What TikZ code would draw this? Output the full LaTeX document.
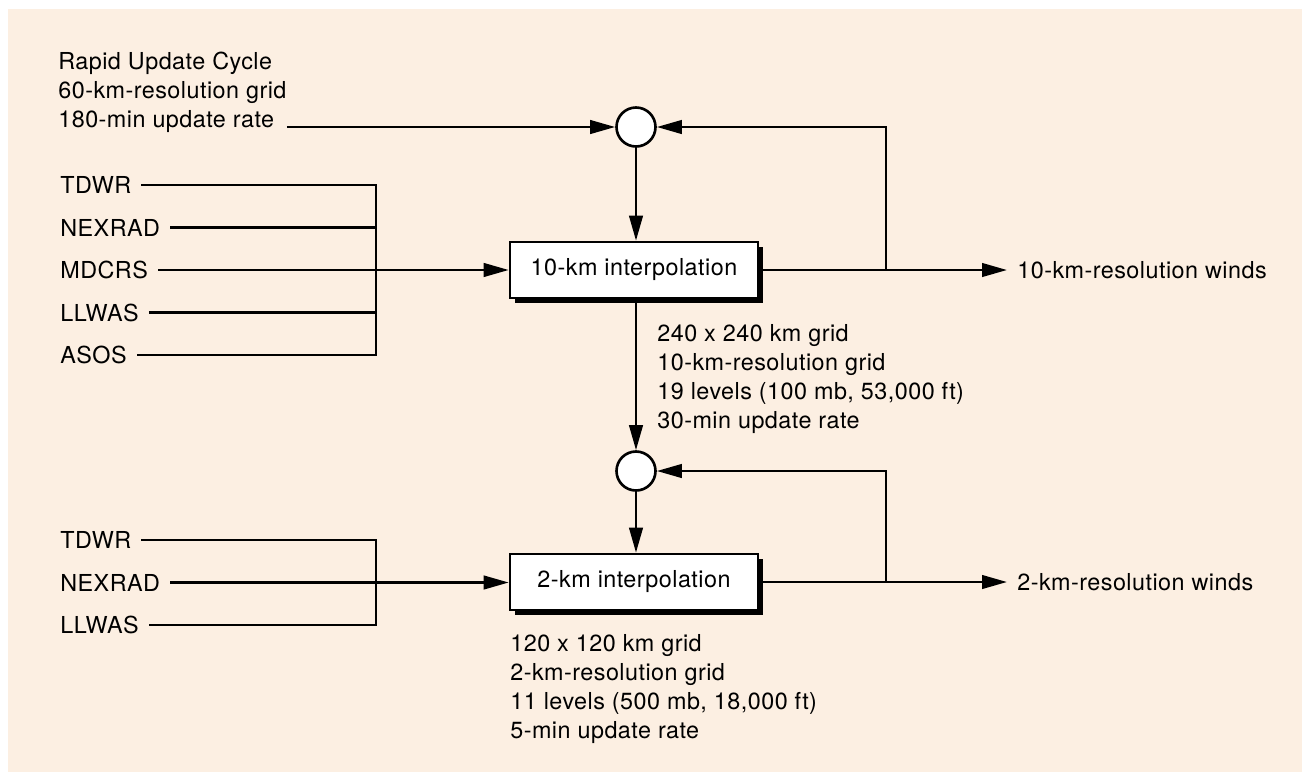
\documentclass[tikz,border=0pt]{standalone}
\usepackage{fontspec}
\setmainfont{TeX Gyre Heros}[LetterSpace=2]
\usepackage{tikz}
\usetikzlibrary{positioning, arrows.meta, shadows}
\definecolor{peach}{RGB}{252,239,226}

\begin{document}
\begin{tikzpicture}[
  x=0.02cm, y=-0.02cm,
  every node/.style={font=\fontsize{13.3}{16.5}\selectfont},
  stage/.style={draw, fill=white, line width=1.5pt, minimum width=4.96cm, minimum height=1.12cm,
    drop shadow={shadow xshift=0.1cm, shadow yshift=-0.1cm, fill=black, opacity=1}},
  sum/.style={draw, circle, fill=white, line width=1.5pt, minimum size=0.78cm, inner sep=0},
  src/.style={anchor=west, inner xsep=0.2cm, inner ysep=0},
  outlabel/.style={anchor=west, inner xsep=0.2cm, inner ysep=0},
  note/.style={align=left, inner sep=0},
  arrow/.style={-{Triangle[length=0.5cm, width=0.27cm]}, line width=1.5pt},
  wire/.style={line width=1.5pt},
  node distance=0.85cm and 1cm
]

% Background
\fill[peach] (8,9) rectangle (1302,772);
\useasboundingbox (0,0) rectangle (1302,772);

% Main chain
\node[sum] (sumA) at (636,127) {};
\node[stage] (coarse) at (634,270) {10-km interpolation};
\node[sum] (sumB) at (636,471) {};
\node[stage] (fine) at (634,582) {2-km interpolation};

% Rapid Update Cycle input
\node[note, anchor=south west] (ruc) at (58,133)
  {Rapid Update Cycle\\60-km-resolution grid\\180-min update rate};

% Upper sources
\node[src] (tdwrA) at (50,185) {TDWR};
\node[src, below=of tdwrA.west, anchor=west] (nexradA) {NEXRAD};
\node[src, below=of nexradA.west, anchor=west] (mdcrsA) {MDCRS};
\node[src, below=of mdcrsA.west, anchor=west] (llwasA) {LLWAS};
\node[src, below=of llwasA.west, anchor=west] (asosA) {ASOS};
\coordinate (busA) at (376,0);

% Lower sources
\node[src] (tdwrB) at (50,540) {TDWR};
\node[src, below=of tdwrB.west, anchor=west] (nexradB) {NEXRAD};
\node[src, below=of nexradB.west, anchor=west] (llwasB) {LLWAS};
\coordinate (busB) at (376,0);

% Outputs
\node[outlabel] (windsA) at (1007,270) {10-km-resolution winds};
\node[outlabel] (windsB) at (1007,582) {2-km-resolution winds};
\coordinate (tapA) at (886,270);
\coordinate (tapB) at (886,582);

% Grid notes
\node[note, anchor=north west] (gridA) at (657,324)
  {240 x 240 km grid\\10-km-resolution grid\\19 levels (100 mb, 53,000 ft)\\30-min update rate};
\node[note, anchor=north west] (gridB) at (510,634)
  {120 x 120 km grid\\2-km-resolution grid\\11 levels (500 mb, 18,000 ft)\\5-min update rate};

% Upper wiring
\draw[arrow] (ruc.east |- sumA) -- (sumA.west);
\draw[wire] (tdwrA.east) -| (busA |- asosA.east) -- (asosA.east);
\draw[wire] (nexradA.east) -- (nexradA.east -| busA);
\draw[wire] (llwasA.east) -- (llwasA.east -| busA);
\draw[arrow] (mdcrsA.east) -- (mdcrsA.east -| coarse.west);
\draw[arrow] (sumA) -- (sumA |- coarse.north);
\draw[arrow] (coarse.east) -- (windsA.west);
\draw[arrow] (tapA) |- (sumA.east);
\draw[arrow] (sumA |- coarse.south) -- (sumB);

% Lower wiring
\draw[wire] (tdwrB.east) -| (busB |- llwasB.east) -- (llwasB.east);
\draw[arrow] (nexradB.east) -- (nexradB.east -| fine.west);
\draw[arrow] (sumB) -- (sumB |- fine.north);
\draw[arrow] (fine.east) -- (windsB.west);
\draw[arrow] (tapB) |- (sumB.east);

\end{tikzpicture}
\end{document}
